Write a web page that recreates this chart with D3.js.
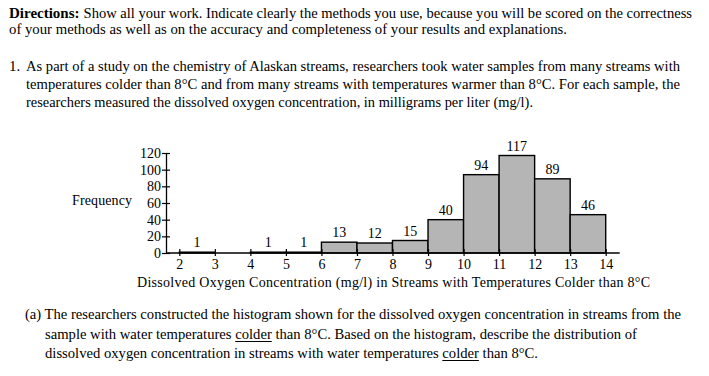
<!DOCTYPE html>
<html>
<head>
<meta charset="utf-8">
<script src="https://cdn.jsdelivr.net/npm/d3@7"></script>
<style>
    body { margin: 0; background: #fff; }
    svg { display: block; font-family: "Liberation Serif", "Times New Roman", serif; }
</style>
</head>
<body>
<div id="chart"></div>
<script>
// histogram data: bins of width 1 mg/l
const binStarts = [2, 3, 4, 5, 6, 7, 8, 9, 10, 11, 12, 13];
const counts = [1, 0, 1, 1, 13, 12, 15, 40, 94, 117, 89, 46];
const xTicks = [2, 3, 4, 5, 6, 7, 8, 9, 10, 11, 12, 13, 14];
const yTicks = [0, 20, 40, 60, 80, 100, 120];

const yLabel = "Frequency";
const xLabel = "Dissolved Oxygen Concentration (mg/l) in Streams with Temperatures Colder than 8°C";

const W = 709, H = 376;

const svg = d3.select("#chart").append("svg")
    .attr("width", W)
    .attr("height", H);

// text lines: [x, baseline, width, text, underlined word or null]
const lines = [
    [9, 18, 683, "Show all your work. Indicate clearly the methods you use, because you will be scored on the correctness", null],
    [9, 34, 558, "of your methods as well as on the accuracy and completeness of your results and explanations.", null],
    [26, 71, 654, "As part of a study on the chemistry of Alaskan streams, researchers took water samples from many streams with", null],
    [26, 89, 654, "temperatures colder than 8°C and from many streams with temperatures warmer than 8°C. For each sample, the", null],
    [26, 107, 507, "researchers measured the dissolved oxygen concentration, in milligrams per liter (mg/l).", null],
    [25, 319, 656, "(a) The researchers constructed the histogram shown for the dissolved oxygen concentration in streams from the", null],
    [45, 339, 592, "sample with water temperatures colder than 8°C. Based on the histogram, describe the distribution of", "colder"],
    [45, 358, 493, "dissolved oxygen concentration in streams with water temperatures colder than 8°C.", "colder"]
];

svg.append("text")
    .attr("x", 9)
    .attr("y", 71)
    .style("font-size", "15px")
    .text("1.");

// bold lead-in of first line
const lead = svg.append("text")
    .attr("x", 9)
    .attr("y", 18)
    .style("font-size", "15px")
    .style("font-weight", "bold")
    .text("Directions:");
const leadW = lead.node().getComputedTextLength() + 4;

lines.forEach(([x, y, w, s, under], i) => {
    const x0 = i === 0 ? x + leadW : x;
    const w0 = i === 0 ? w - leadW : w;
    const t = svg.append("text")
        .attr("x", x0)
        .attr("y", y)
        .attr("textLength", w0)
        .attr("lengthAdjust", "spacingAndGlyphs")
        .style("font-size", "15px")
        .text(s);
    if (under) {
        const k = s.indexOf(under);
        const a = t.node().getExtentOfChar(k);
        const b = t.node().getExtentOfChar(k + under.length - 1);
        svg.append("line")
            .attr("x1", a.x)
            .attr("x2", b.x + b.width)
            .attr("y1", y + 2.5)
            .attr("y2", y + 2.5)
            .attr("stroke", "#000")
            .attr("stroke-width", 1);
    }
});

// chart
const axisX = 166;
const x = d3.scaleLinear().domain([2, 14]).range([179.3, 605.7]);
const y = d3.scaleLinear().domain([0, 120]).range([253, 153]);

const g = svg.append("g");
const bins = binStarts.map((b, i) => ({ start: b, count: counts[i] })).filter(d => d.count > 0);

g.selectAll("rect.bar")
    .data(bins)
    .enter()
    .append("rect")
        .classed("bar", true)
        .attr("x", d => x(d.start))
        .attr("y", d => y(d.count))
        .attr("width", d => x(d.start + 1) - x(d.start))
        .attr("height", d => y(0) - y(d.count))
        .attr("fill", "#b5b5b5")
        .attr("stroke", "#000")
        .attr("stroke-width", 1.4);

g.selectAll("text.count")
    .data(bins)
    .enter()
    .append("text")
        .classed("count", true)
        .attr("x", d => x(d.start + 0.5))
        .attr("y", d => y(d.count) - 5)
        .attr("text-anchor", "middle")
        .style("font-size", "14px")
        .text(d => d.count);

// y axis
const yAxis = g.append("g")
    .attr("transform", `translate(${axisX},0)`)
    .call(d3.axisLeft(y).tickValues(yTicks).tickSize(4).tickSizeOuter(0).tickPadding(1))
    .attr("font-size", 14)
    .attr("font-family", "Liberation Serif");
yAxis.select(".domain").attr("stroke", "#000").attr("stroke-width", 1.3);
yAxis.selectAll(".tick line").attr("x1", 4).attr("stroke-width", 1.2);
yAxis.selectAll(".tick text").attr("fill", "#000");

// x axis
const xAxis = g.append("g")
    .attr("transform", `translate(0,${y(0)})`)
    .call(d3.axisBottom(x).tickValues(xTicks).tickSize(3).tickSizeOuter(0).tickPadding(3))
    .attr("font-size", 14)
    .attr("font-family", "Liberation Serif");
xAxis.select(".domain").remove();
xAxis.selectAll(".tick line").attr("y1", -4).attr("stroke-width", 1.2);
xAxis.selectAll(".tick text").attr("fill", "#000");

g.append("line")
    .attr("x1", axisX)
    .attr("x2", x(14) + 14)
    .attr("y1", y(0))
    .attr("y2", y(0))
    .attr("stroke", "#000")
    .attr("stroke-width", 1.3);

g.append("text")
    .attr("x", 72)
    .attr("y", 205)
    .attr("textLength", 60)
    .style("font-size", "14px")
    .text(yLabel);

g.append("text")
    .attr("x", 137)
    .attr("y", 287)
    .attr("textLength", 513)
    .style("font-size", "14px")
    .text(xLabel);
</script>
</body>
</html>
